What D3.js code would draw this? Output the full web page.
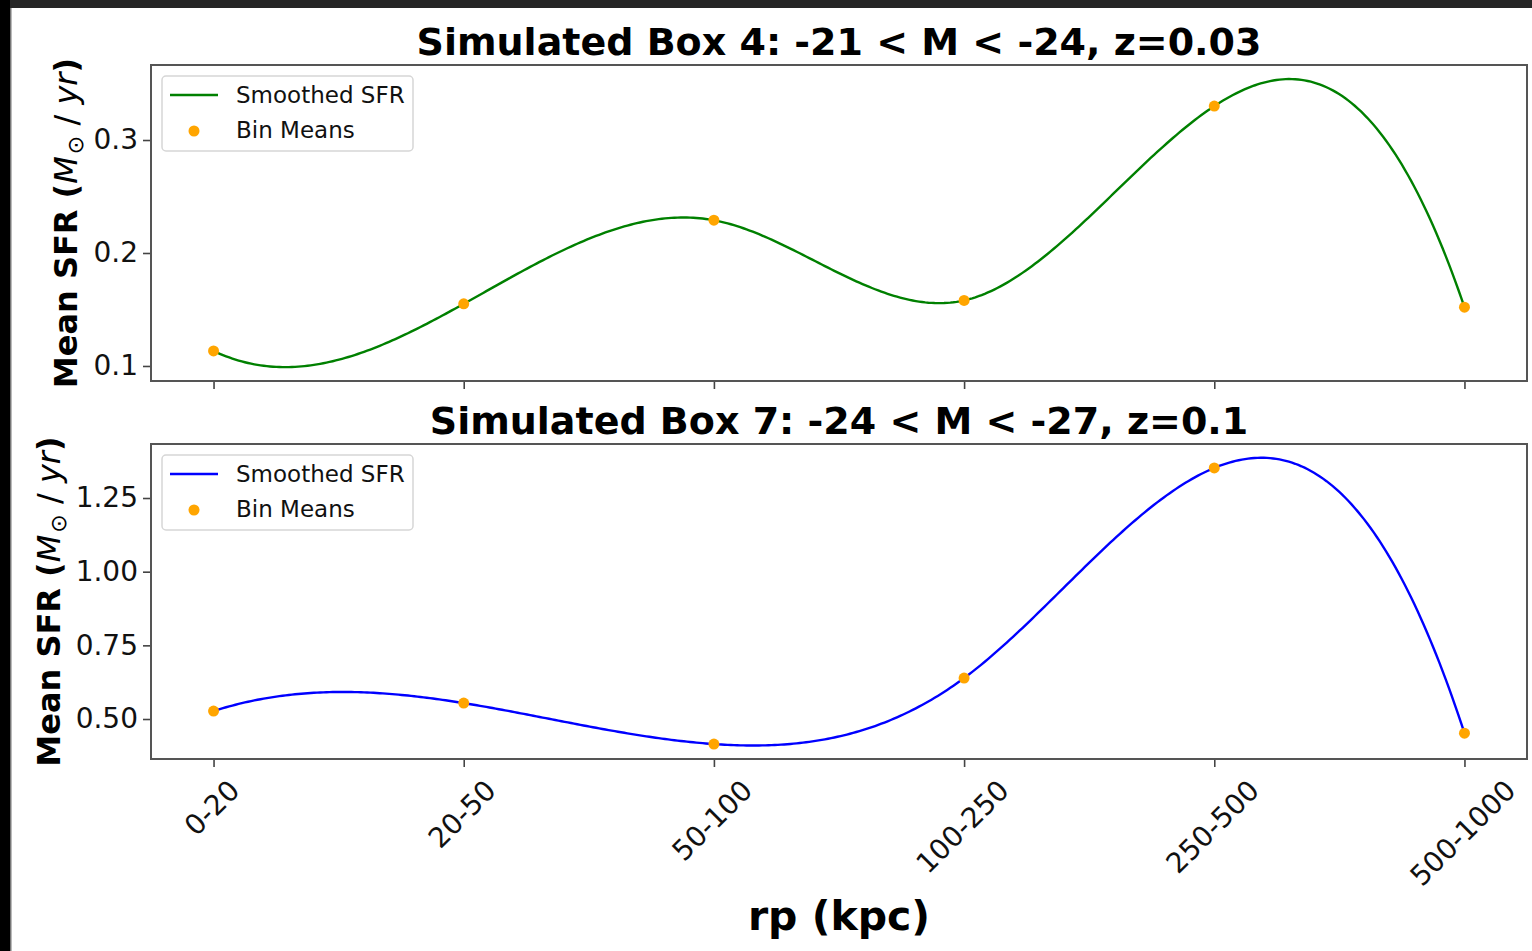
<!DOCTYPE html>
<html>
<head>
<meta charset="utf-8">
<script src="https://cdn.jsdelivr.net/npm/d3@7"></script>
<style>
  html, body { margin: 0; padding: 0; background: #fff; }
  svg { display: block; }
  text { font-family: "DejaVu Sans", sans-serif; }
</style>
</head>
<body>
<svg id="chart" width="1532" height="951"></svg>
<script>
// Projected-radius bins and mean star-formation rate per bin
const categories = ["0-20", "20-50", "50-100", "100-250", "250-500", "500-1000"];
const box4Means = [0.1133, 0.155, 0.229, 0.158, 0.330, 0.152];
const box7Means = [0.527, 0.554, 0.415, 0.639, 1.352, 0.452];
const box4Ticks = [0.1, 0.2, 0.3];
const box7Ticks = [0.50, 0.75, 1.00, 1.25];
const panelTitles = [
  "Simulated Box 4: -21 < M < -24, z=0.03",
  "Simulated Box 7: -24 < M < -27, z=0.1"
];
const lineColors = ["green", "blue"];
const legendLabels = ["Smoothed SFR", "Bin Means"];

// Cubic interpolating spline with not-a-knot end conditions (unit spacing)
function notAKnotSpline(ys, samples) {
  const n = ys.length;
  const A = Array.from({ length: n }, () => new Array(n).fill(0));
  const b = new Array(n).fill(0);
  A[0][0] = 1; A[0][1] = -2; A[0][2] = 1;
  for (let i = 1; i < n - 1; i++) {
    A[i][i - 1] = 1; A[i][i] = 4; A[i][i + 1] = 1;
    b[i] = 6 * (ys[i + 1] - 2 * ys[i] + ys[i - 1]);
  }
  A[n - 1][n - 3] = 1; A[n - 1][n - 2] = -2; A[n - 1][n - 1] = 1;
  // Gaussian elimination with partial pivoting
  for (let c = 0; c < n; c++) {
    let p = c;
    for (let r = c + 1; r < n; r++) if (Math.abs(A[r][c]) > Math.abs(A[p][c])) p = r;
    [A[c], A[p]] = [A[p], A[c]]; [b[c], b[p]] = [b[p], b[c]];
    for (let r = c + 1; r < n; r++) {
      const f = A[r][c] / A[c][c];
      for (let k = c; k < n; k++) A[r][k] -= f * A[c][k];
      b[r] -= f * b[c];
    }
  }
  const M = new Array(n).fill(0);
  for (let r = n - 1; r >= 0; r--) {
    let s = b[r];
    for (let k = r + 1; k < n; k++) s -= A[r][k] * M[k];
    M[r] = s / A[r][r];
  }
  const out = [];
  for (let s = 0; s < samples; s++) {
    const t = (n - 1) * s / (samples - 1);
    const i = Math.min(Math.floor(t), n - 2);
    const u = t - i, w = 1 - u;
    const v = w * ys[i] + u * ys[i + 1] + (w * w * w - w) * M[i] / 6 + (u * u * u - u) * M[i + 1] / 6;
    out.push([t, v]);
  }
  return out;
}

const svg = d3.select("#chart");

// dark frame strips along the top and left edges
svg.append("rect").attr("x", 0).attr("y", 0).attr("width", 1532).attr("height", 8).attr("fill", "#262626");
svg.append("rect").attr("x", 0).attr("y", 0).attr("width", 10).attr("height", 951).attr("fill", "#000");
svg.append("rect").attr("x", 10).attr("y", 8).attr("width", 1.5).attr("height", 943).attr("fill", "#777");

const plotLeft = 151, plotRight = 1527;
const panels = [
  { top: 65, bottom: 381, domain: [0.0867, 0.3664], means: box4Means, ticks: box4Ticks, fmt: d3.format(".1f"), labelX: 77, showX: false },
  { top: 444, bottom: 759, domain: [0.3643, 1.4333], means: box7Means, ticks: box7Ticks, fmt: d3.format(".2f"), labelX: 60, showX: true }
];

const x = d3.scaleLinear().domain([-0.25, categories.length - 1 + 0.25]).range([plotLeft, plotRight]);

panels.forEach((p, pi) => {
  const y = d3.scaleLinear().domain(p.domain).range([p.bottom, p.top]);
  const g = svg.append("g");

  // smoothed curve
  const smooth = notAKnotSpline(p.means, 400);
  const clipId = "clip" + pi;
  svg.append("clipPath").attr("id", clipId).append("rect")
    .attr("x", plotLeft).attr("y", p.top).attr("width", plotRight - plotLeft).attr("height", p.bottom - p.top);
  g.append("path")
    .datum(smooth)
    .attr("clip-path", `url(#${clipId})`)
    .attr("fill", "none")
    .attr("stroke", lineColors[pi])
    .attr("stroke-width", 2.4)
    .attr("d", d3.line().x(d => x(d[0])).y(d => y(d[1])));

  // bin means
  g.selectAll("circle.mean").data(p.means).join("circle")
    .attr("class", "mean")
    .attr("cx", (d, i) => x(i)).attr("cy", d => y(d))
    .attr("r", 5.5).attr("fill", "orange");

  // y axis
  const ya = g.append("g").attr("transform", `translate(${plotLeft},0)`)
    .call(d3.axisLeft(y).tickValues(p.ticks).tickFormat(p.fmt).tickSize(8).tickPadding(5));
  ya.select(".domain").remove();
  ya.selectAll(".tick line").attr("stroke", "#444").attr("stroke-width", 1.6);
  ya.selectAll(".tick text").attr("font-size", 28).attr("fill", "#111")
    .attr("font-family", "DejaVu Sans");

  // x axis
  const xa = g.append("g").attr("transform", `translate(0,${p.bottom})`)
    .call(d3.axisBottom(x).tickValues(d3.range(categories.length))
      .tickFormat(i => p.showX ? categories[i] : "").tickSize(8));
  xa.select(".domain").remove();
  xa.selectAll(".tick line").attr("stroke", "#444").attr("stroke-width", 1.6);
  if (p.showX) {
    xa.selectAll(".tick text")
      .attr("font-size", 28).attr("fill", "#111").attr("font-family", "DejaVu Sans")
      .attr("text-anchor", "middle").attr("dominant-baseline", "central")
      .attr("dy", null)
      .attr("y", null)
      .each(function () {
        const t = d3.select(this);
        const w = this.getComputedTextLength();
        const h = 28 * 1.164;
        const cy = 15 + (w + h) * Math.SQRT1_2 / 2;
        t.attr("transform", `translate(-2,${cy}) rotate(-45)`);
      });
  }

  // frame
  g.append("rect")
    .attr("x", plotLeft).attr("y", p.top)
    .attr("width", plotRight - plotLeft).attr("height", p.bottom - p.top)
    .attr("fill", "none").attr("stroke", "#555").attr("stroke-width", 2);

  // title
  g.append("text")
    .attr("x", (plotLeft + plotRight) / 2).attr("y", p.top - 10)
    .attr("text-anchor", "middle").attr("font-size", 38).attr("font-weight", "bold")
    .attr("fill", "#000")
    .text(panelTitles[pi]);

  // y label
  const yl = g.append("text")
    .attr("transform", `translate(${p.labelX},${(p.top + p.bottom) / 2}) rotate(-90)`)
    .attr("text-anchor", "middle").attr("font-size", 32).attr("fill", "#000")
    .style("white-space", "pre");
  yl.append("tspan").attr("font-weight", "bold").text("Mean SFR (");
  yl.append("tspan").attr("font-style", "italic").text("M");
  yl.append("tspan").attr("font-size", 22).attr("dy", 6).attr("dx", 2).text("⊙");
  yl.append("tspan").attr("dy", -6).text(" / ");
  yl.append("tspan").attr("font-style", "italic").text("yr");
  yl.append("tspan").attr("font-weight", "bold").text(")");

  // legend
  const lx = 162, ly = p.top + 11;
  const lg = g.append("g");
  lg.append("rect").attr("x", lx).attr("y", ly).attr("width", 251).attr("height", 75)
    .attr("rx", 4).attr("fill", "#fff").attr("fill-opacity", 0.8)
    .attr("stroke", "#d6d6d6").attr("stroke-width", 1.5);
  lg.append("line").attr("x1", lx + 8).attr("x2", lx + 56).attr("y1", ly + 19).attr("y2", ly + 19)
    .attr("stroke", lineColors[pi]).attr("stroke-width", 2.4);
  lg.append("circle").attr("cx", lx + 32).attr("cy", ly + 55).attr("r", 5.5).attr("fill", "orange");
  lg.append("text").attr("x", lx + 74).attr("y", ly + 27).attr("font-size", 23).attr("fill", "#111").text(legendLabels[0]);
  lg.append("text").attr("x", lx + 74).attr("y", ly + 62).attr("font-size", 23).attr("fill", "#111").text(legendLabels[1]);
});

// shared x-axis label
svg.append("text")
  .attr("x", (plotLeft + plotRight) / 2).attr("y", 930)
  .attr("text-anchor", "middle").attr("font-size", 41).attr("font-weight", "bold")
  .attr("fill", "#000")
  .text("rp (kpc)");
</script>
</body>
</html>
